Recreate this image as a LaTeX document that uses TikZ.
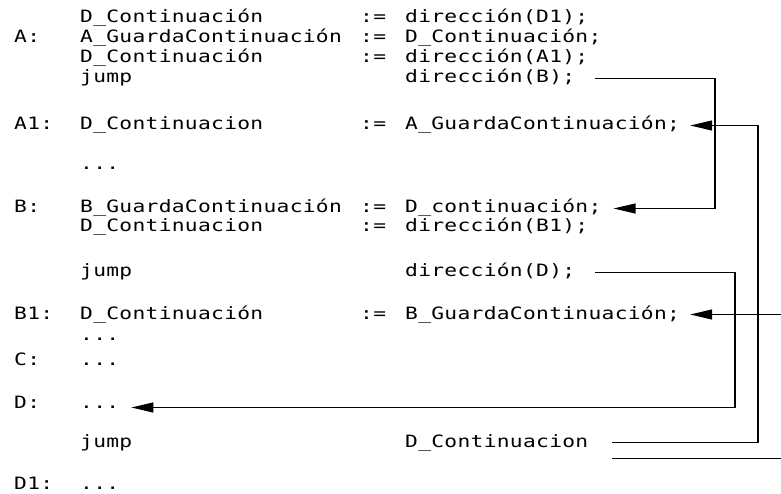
\documentclass[tikz,border=0pt]{standalone}
\usepackage{fontspec}
\usetikzlibrary{arrows.meta}
\newfontfamily\codefont[FakeStretch=1.25,LetterSpace=1.8]{DejaVu Sans Mono}
\begin{document}
\begin{tikzpicture}[x=1bp,y=-1bp,
  code/.style={inner sep=0pt, anchor=base west, text height=12bp, text depth=3bp,
    font=\codefont\fontsize{17bp}{19bp}\selectfont},
  conn/.style={line width=1.2bp, -{Triangle[length=22bp,width=10bp]}},
  plain/.style={line width=1.2bp}]
\useasboundingbox (0,0) rectangle (781,494);
% row 1
\node[code] (t1) at (80,23) {D\_Continuación};
\node[code] (s1) at (360,23) {:=};
\node[code] (v1) at (405,23) {dirección(D1);};
% row 2
\node[code] (lA) at (14,43) {A:};
\node[code] (t2) at (80,43) {A\_GuardaContinuación};
\node[code] (s2) at (360,43) {:=};
\node[code] (v2) at (405,43) {D\_Continuación;};
% row 3
\node[code] (t3) at (80,63) {D\_Continuación};
\node[code] (s3) at (360,63) {:=};
\node[code] (v3) at (405,63) {dirección(A1);};
% row 4
\node[code] (t4) at (80,83) {jump};
\node[code] (dirB) at (405,83) {dirección(B);};
% A1
\node[code] (lA1) at (14,130) {A1:};
\node[code] (t5) at (80,130) {D\_Continuacion};
\node[code] (s5) at (360,130) {:=};
\node[code] (a1r) at (405,130) {A\_GuardaContinuación;};
% dots
\node[code] (d1) at (80,170) {...};
% B
\node[code] (lB) at (14,213) {B:};
\node[code] (t6) at (80,213) {B\_GuardaContinuación};
\node[code] (s6) at (360,213) {:=};
\node[code] (rB) at (405,213) {D\_continuación;};
\node[code] (t7) at (80,232) {D\_Continuacion};
\node[code] (s7) at (360,232) {:=};
\node[code] (v7) at (405,232) {dirección(B1);};
% jump D
\node[code] (t8) at (80,277) {jump};
\node[code] (dirD) at (405,277) {dirección(D);};
% B1
\node[code] (lB1) at (14,319) {B1:};
\node[code] (t9) at (80,319) {D\_Continuación};
\node[code] (s9) at (360,319) {:=};
\node[code] (b1r) at (405,319) {B\_GuardaContinuación;};
\node[code] (d2) at (80,340) {...};
% C
\node[code] (lC) at (14,365) {C:};
\node[code] (d3) at (80,365) {...};
% D
\node[code] (lD) at (14,408) {D:};
\node[code] (ddots) at (80,408) {...};
% jump D_Continuacion
\node[code] (t10) at (80,447) {jump};
\node[code] (dcont) at (405,447) {D\_Continuacion};
% D1
\node[code] (lD1) at (14,489) {D1:};
\node[code] (d4) at (80,489) {...};
% connectors
\draw[conn] ([xshift=20bp]dirB.east) -| (715,0 |- rB.east) -- ([xshift=12bp]rB.east);
\draw[conn] ([xshift=24bp]dcont.east) -| (758,0 |- a1r.east) -- ([xshift=10bp]a1r.east);
\coordinate (dtip) at ([xshift=12bp,yshift=-4bp]ddots.east);
\draw[conn] ([xshift=20bp]dirD.east) -| (735,0 |- dtip) -- (dtip);
\coordinate (inB1) at (781,0 |- b1r.east);
\draw[conn] (inB1) -- ([xshift=10bp]b1r.east);
\coordinate (outD1) at ([xshift=24bp,yshift=-16bp]dcont.east);
\draw[plain] (outD1) -- (781,0 |- outD1);
\end{tikzpicture}
\end{document}
